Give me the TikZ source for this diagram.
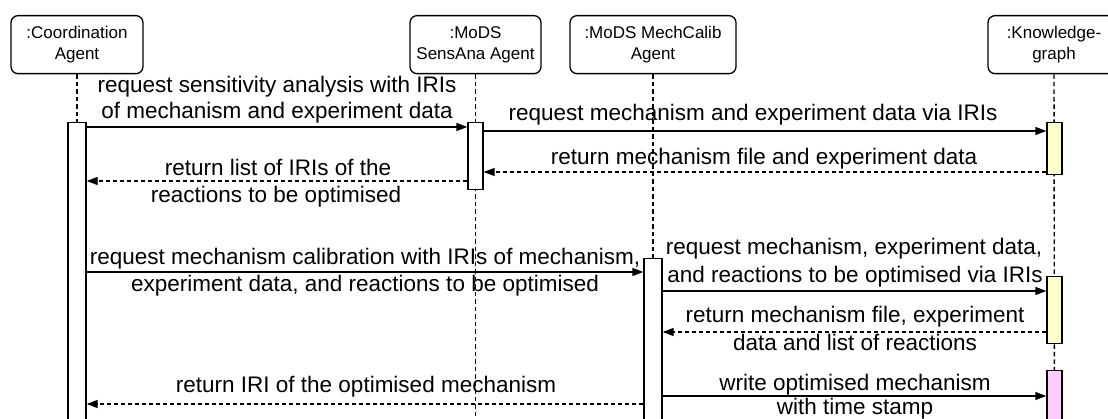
\documentclass[tikz,border=0pt]{standalone}
\usepackage{fontspec}
\setmainfont{Liberation Sans}
\usetikzlibrary{arrows.meta}
\begin{document}
\begin{tikzpicture}[x=1pt,y=-1pt,
  head/.style={draw, rounded corners=7pt, line width=1.3pt, minimum width=132pt, minimum height=58pt,
    align=center, font=\fontsize{17}{21}\selectfont, inner sep=0pt, anchor=north},
  actbar/.style={draw, line width=1.3pt, fill=white, minimum width=15pt, inner sep=0pt, anchor=north},
  life/.style={line width=1.4pt, dash pattern=on 4.5pt off 3pt},
  msg/.style={line width=1.3pt, -{Triangle[length=11pt,width=8pt]}},
  ret/.style={msg, dash pattern=on 4pt off 3pt},
  lbl/.style={font=\fontsize{22.5}{25}\selectfont, inner sep=0pt, anchor=base}
]
\useasboundingbox (0,0) rectangle (1108,419);
\clip (0,0) rectangle (1108,419);

% heads
\node[head] (ch) at (77,15) {:Coordination\\Agent};
\node[head, minimum width=131pt] (sh) at (475.5,15) {:MoDS\\SensAna Agent};
\node[head, minimum width=166pt] (mh) at (653,15) {:MoDS MechCalib\\Agent};
\node[head] (kh) at (1054,15) {:Knowledge-\\graph};

% lifeline ends
\coordinate (ce) at (77,430);
\coordinate (se) at (475.5,430);
\coordinate (me) at (653,430);
\coordinate (ke) at (1054.5,430);

\draw[life] (ch.south) -- (ce);
\draw[life] (sh.south) -- (se);
\draw[life] (mh.south) -- (me);
\draw[life] (kh.south) -- (ke);

% activation bars
\node[actbar, minimum width=18pt, minimum height=320pt] (cb) at (77,122) {};
\node[actbar, minimum height=67pt] (sb) at (475.5,122) {};
\node[actbar, minimum width=18pt, minimum height=180pt] (mb) at (653,258) {};
\node[actbar, fill={rgb,255:red,255;green,255;blue,204}, minimum height=52pt] (kb1) at (1054.5,122) {};
\node[actbar, fill={rgb,255:red,255;green,255;blue,204}, minimum height=67pt] (kb2) at (1054.5,276) {};
\node[actbar, fill={rgb,255:red,255;green,204;blue,255}, minimum height=70pt] (kb3) at (1054.5,370) {};

% messages
\draw[msg] (cb.east |- 0,127) -- (sb.west |- 0,127);
\node[lbl] (l1a) at (277,93) {request sensitivity analysis with IRIs};
\node[lbl] (l1b) at (277,119) {of mechanism and experiment data};

\draw[msg] (sb.east |- 0,131) -- (kb1.west |- 0,131);
\node[lbl] (l2) at (753,121) {request mechanism and experiment data via IRIs};

\draw[ret] (kb1.west |- 0,172) -- (sb.east |- 0,172);
\node[lbl] (l3) at (764,165) {return mechanism file and experiment data};

\draw[ret] (sb.west |- 0,181) -- (cb.east |- 0,181);
\node[lbl] (l4a) at (278,176) {return list of IRIs of the};
\node[lbl] (l4b) at (276,203) {reactions to be optimised};

\draw[msg] (cb.east |- 0,272) -- (mb.west |- 0,272);
\node[lbl] (l5a) at (365,265) {request mechanism calibration with IRIs of mechanism,};
\node[lbl] (l5b) at (365,292) {experiment data, and reactions to be optimised};

\draw[msg] (mb.east |- 0,291) -- (kb2.west |- 0,291);
\node[lbl] (l6a) at (854,255) {request mechanism, experiment data,};
\node[lbl] (l6b) at (855,283) {and reactions to be optimised via IRIs};

\draw[ret] (kb2.west |- 0,332) -- (mb.east |- 0,332);
\node[lbl] (l7a) at (855,323) {return mechanism file, experiment};
\node[lbl] (l7b) at (855,351) {data and list of reactions};

\draw[msg] (mb.east |- 0,396) -- (kb3.west |- 0,396);
\node[lbl] (l8a) at (855,391) {write optimised mechanism};
\node[lbl] (l8b) at (855,414) {with time stamp};

\draw[ret] (mb.west |- 0,404) -- (cb.east |- 0,404);
\node[lbl] (l9) at (366,392) {return IRI of the optimised mechanism};
\end{tikzpicture}
\end{document}
